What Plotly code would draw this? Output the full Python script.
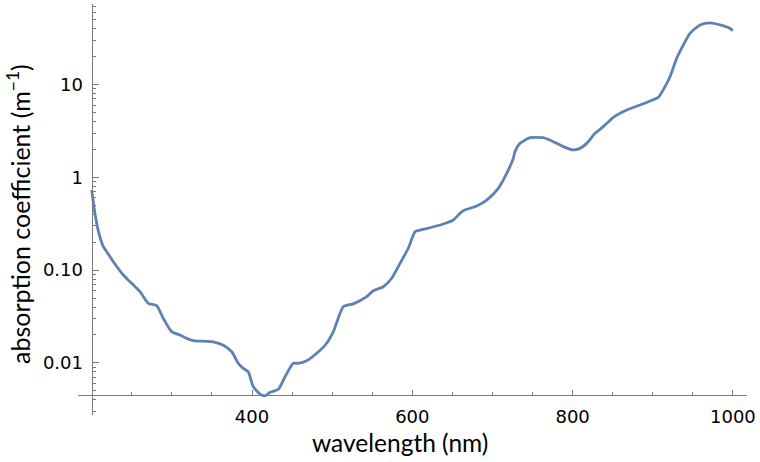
import plotly.graph_objects as go

wavelength = [200, 204, 208, 214.5, 218.7, 227, 239.4, 247.8, 260.3, 270.6, 281, 289.3, 299.8, 310,
              318.5, 326.8, 351.7, 364.2, 374.7, 382.9, 389.2, 395.4, 401.6, 410, 416.2, 422.5, 432.8,
              441.2, 451.6, 457.8, 468.2, 480.7, 493.2, 501.5, 513.9, 526.4, 543.1, 551.3, 563.8, 574.3,
              584.6, 595, 603.4, 609.6, 622, 638.7, 651.2, 659.5, 663.6, 680.3, 692.8, 707.3, 717.8, 726,
              728.1, 734.4, 746.8, 763.4, 775.9, 788.4, 800.9, 809.2, 817.6, 828, 838.3, 850.8, 867.5,
              884.1, 896.6, 906.9, 915.3, 921.5, 929.9, 938.1, 946.5, 959, 971.5, 983.9, 994.3, 1000]
absorption = [0.73, 0.41, 0.27, 0.179, 0.158, 0.123, 0.0885, 0.075, 0.0585, 0.0439, 0.0414, 0.0302, 0.0217, 0.020,
              0.0184, 0.0174, 0.0169, 0.0155, 0.0132, 0.0099, 0.00875, 0.0080, 0.00554, 0.00462, 0.00443, 0.00482, 0.0052,
              0.0071, 0.0099, 0.0099, 0.01056, 0.0127, 0.0163, 0.0217, 0.0403, 0.0433, 0.0517, 0.060, 0.0662, 0.0817,
              0.118, 0.172, 0.259, 0.270, 0.286, 0.314, 0.347, 0.409, 0.437, 0.491, 0.569, 0.76, 1.10, 1.60,
              1.89, 2.32, 2.67, 2.67, 2.42, 2.14, 1.97, 2.05, 2.32, 2.98, 3.51, 4.43, 5.31,
              6.01, 6.64, 7.27, 9.47, 12.1, 19.2, 26.6, 35.6, 43.8, 46.0, 43.8, 41.0, 38.0]

x_ticks = [400, 600, 800, 1000]
x_minor = [250, 300, 350, 450, 500, 550, 650, 700, 750, 850, 900, 950]
y_ticks = [0.01, 0.1, 1, 10]
y_ticktext = ["0.01", "0.10", "1", "10"]
y_minor = [m * 10 ** e for e in range(-3, 2) for m in range(2, 10) if m * 10 ** e not in y_ticks]

fig = go.Figure(go.Scatter(x=wavelength, y=absorption, mode="lines",
                           line=dict(color="#5E81B5", width=2.8, shape="spline", smoothing=0.6)))

axis_color = "#7a7a7a"
fig.update_layout(
    width=760, height=462,
    margin=dict(l=78, r=13, t=4, b=47),
    paper_bgcolor="white", plot_bgcolor="white",
    showlegend=False,
    font=dict(family="DejaVu Sans", size=18, color="black"),
    xaxis=dict(range=[182.9, 1017.6], showgrid=False, zeroline=False,
               showline=True, linecolor=axis_color, linewidth=1.2,
               anchor="free", position=0.0487,
               tickmode="array", tickvals=x_ticks, ticktext=[str(v) for v in x_ticks],
               ticks="inside", ticklen=4.5, tickwidth=1, tickcolor=axis_color,
               minor=dict(tickmode="array", tickvals=x_minor, ticks="inside", ticklen=2.5,
                          tickwidth=1, tickcolor=axis_color),
               ticklabelstandoff=5),
    yaxis=dict(type="log", range=[-2.561, 1.867], showgrid=False, zeroline=False,
               showline=True, linecolor=axis_color, linewidth=1.2,
               anchor="free", position=0.0205,
               tickmode="array", tickvals=y_ticks, ticktext=y_ticktext,
               ticks="inside", ticklen=6, tickwidth=1, tickcolor=axis_color,
               minor=dict(tickmode="array", tickvals=y_minor, ticks="inside", ticklen=3.5,
                          tickwidth=1, tickcolor=axis_color),
               ticklabelstandoff=5),
    annotations=[
        dict(text="wavelength (nm)", x=(400 - 78) / 669, y=(415 - 443) / 411, xref="paper", yref="paper",
             xanchor="center", yanchor="middle", showarrow=False,
             font=dict(family="Lato", size=24.5, color="black")),
        dict(text="absorption coefficient (m<sup>−1</sup>)", x=(18 - 78) / 669, y=(415 - 214) / 411,
             xref="paper", yref="paper", xanchor="center", yanchor="middle",
             textangle=-90, showarrow=False,
             font=dict(family="Lato", size=25, color="black")),
    ],
)

fig.write_html("out.html", config={"displayModeBar": False},
               post_script="document.body.style.margin='0';")
